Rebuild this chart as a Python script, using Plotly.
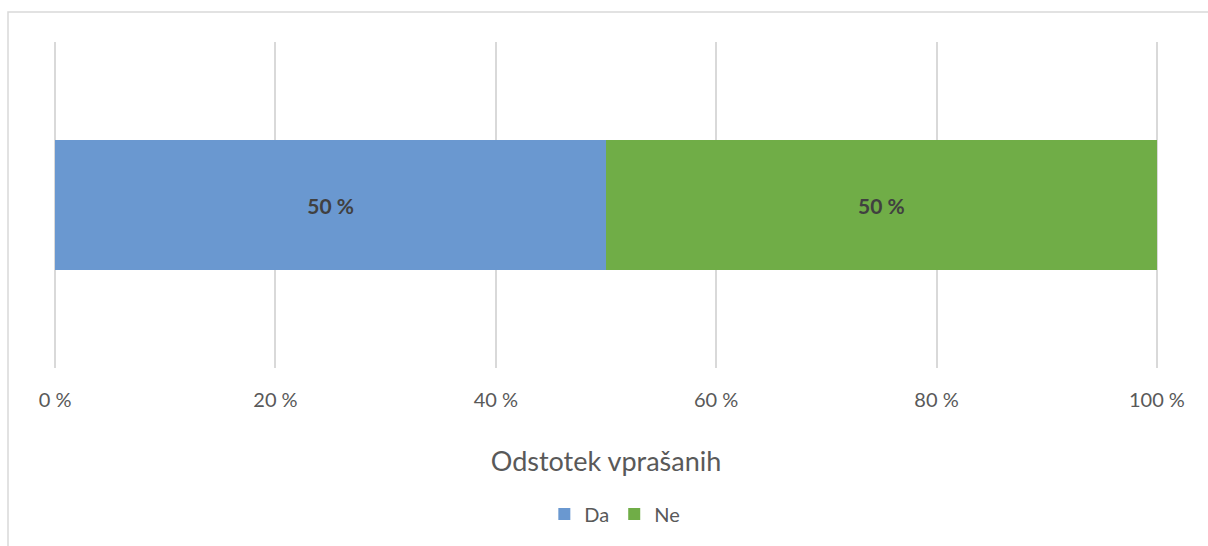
import plotly.graph_objects as go

categories = [""]
series_names = ["Da", "Ne"]
da_values = [50]
ne_values = [50]
tick_vals = [0, 20, 40, 60, 80, 100]
tick_labels = ["0 %", "20 %", "40 %", "60 %", "80 %", "100 %"]
axis_title = "Odstotek vprašanih"

colors = {"Da": "#6a98d0", "Ne": "#70ad47"}
font_family = "Lato, Open Sans, sans-serif"

fig = go.Figure()
for name, vals in zip(series_names, [da_values, ne_values]):
    fig.add_trace(go.Bar(
        y=categories, x=vals, name=name, orientation="h",
        marker=dict(color=colors[name], line=dict(width=0)),
        text=[f"<b>{v} %</b>" for v in vals],
        textposition="inside", insidetextanchor="middle",
        textfont=dict(size=21, color="#404040", family=font_family),
        width=0.4,
    ))

fig.update_layout(
    barmode="stack",
    width=1208, height=546,
    margin=dict(l=54, r=50, t=42, b=178),
    paper_bgcolor="white", plot_bgcolor="white",
    font=dict(family=font_family, color="#595959"),
    showlegend=True,
    legend=dict(orientation="h", x=0.508, xanchor="center", y=-0.448, yanchor="middle",
                font=dict(size=20, color="#595959"), traceorder="normal",
                itemwidth=30),
    xaxis=dict(range=[-0.1, 100.1], tickvals=tick_vals, ticktext=tick_labels,
               showgrid=True, gridcolor="#d9d9d9", gridwidth=1.5,
               zeroline=False, showline=False,
               tickfont=dict(size=20, color="#595959"),
               ticks="outside", ticklen=14, tickcolor="rgba(0,0,0,0)",
               title=dict(text=axis_title, font=dict(size=27, color="#595959"), standoff=42)),
    yaxis=dict(showticklabels=False, showgrid=False, zeroline=False, range=[-0.5, 0.5]),
    shapes=[dict(type="rect", xref="paper", yref="paper",
                 x0=(8 - 54) / 1104, x1=(1230 - 54) / 1104,
                 y0=(368 - 560) / 326, y1=(368 - 12) / 326,
                 line=dict(color="#d9d9d9", width=1.5), fillcolor="rgba(0,0,0,0)",
                 layer="below")],
)

fig.write_html("out.html", config={"displayModeBar": False},
               post_script="document.body.style.margin='0';document.body.style.overflow='hidden';")
